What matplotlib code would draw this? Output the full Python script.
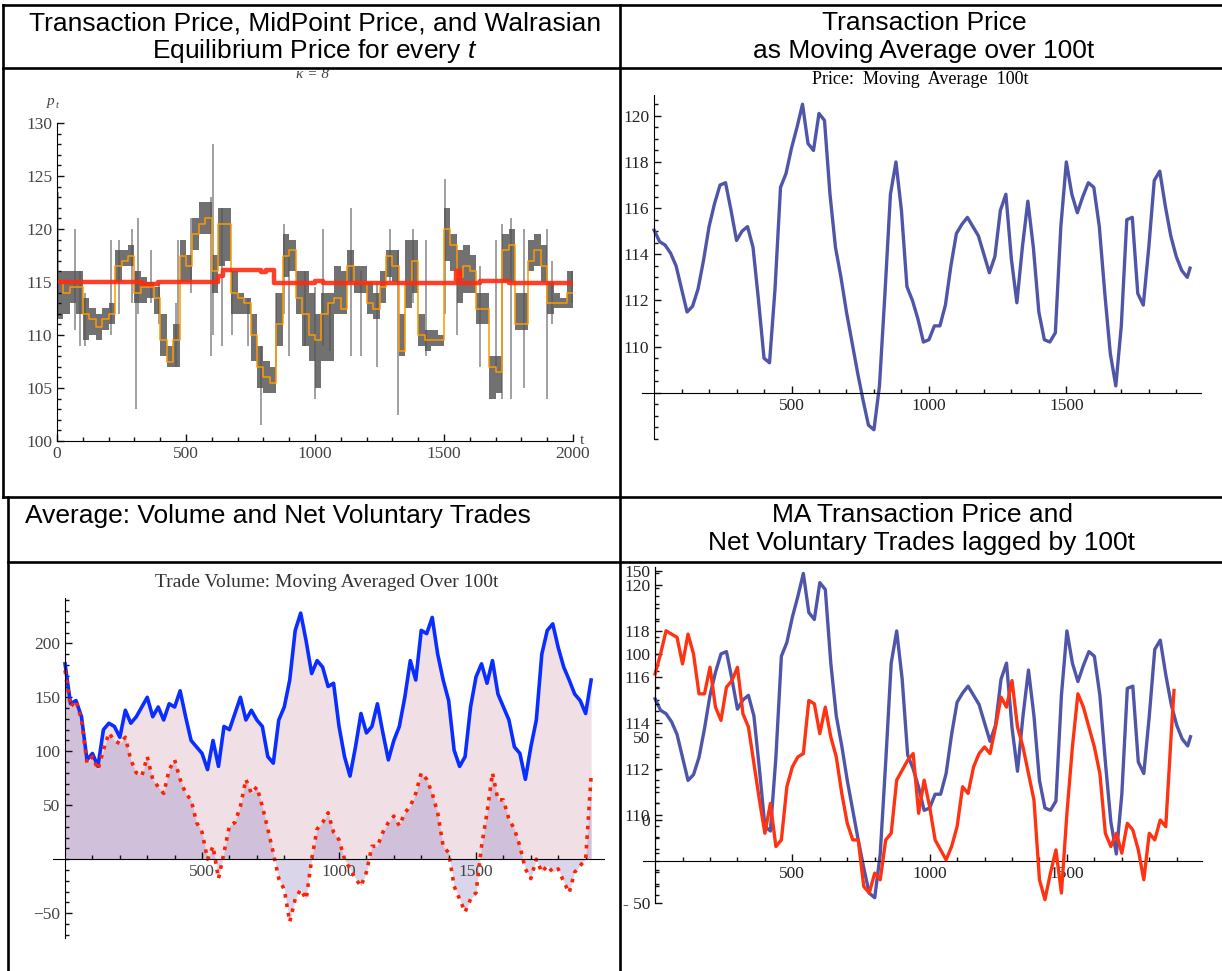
import numpy as np
import matplotlib.pyplot as plt

plt.rcParams['mathtext.fontset'] = 'custom'
plt.rcParams['mathtext.rm'] = 'Liberation Sans'
plt.rcParams['mathtext.it'] = 'Liberation Sans:italic'

W, H = 1222, 971
SERIF = 'Liberation Serif'
SANS = 'Liberation Sans'

# ---- top left: transaction price band, midpoint, walrasian price ----
band_t = list(range(0, 2000, 25))
band_lo = [111.5, 112, 113, 112, 109.5, 110, 109.5, 110.5, 111, 115, 116.5, 116.5,
           113, 113, 113.5, 112, 108, 107, 107, 115, 115, 118, 119.5, 119.5,
           114, 116.5, 117, 112, 112, 112, 107.5, 105, 104.5, 104.5, 109, 115.5,
           116, 112, 109, 107.5, 105, 107.5, 107.5, 112, 112, 115, 114, 114,
           112, 111.5, 113, 115.5, 115, 108, 112.5, 114, 109, 108.5, 109, 109,
           117, 116, 113, 114, 114, 111, 111, 104, 104.5, 115, 115, 110.5,
           110.5, 116, 116.5, 115, 112, 112.5, 112.5, 112.5]
band_hi = [116, 116, 116, 116, 113.5, 112.5, 112, 112.5, 113, 118, 118, 118.5,
           116, 115.5, 115, 114.5, 112, 109, 111, 119, 117.5, 121, 122.5, 122.5,
           117.5, 122, 122, 116, 114, 113.5, 112, 109, 107.5, 107, 114, 119.5,
           119, 116, 116, 114, 112, 114, 114, 116.5, 116, 118, 116.5, 116.5,
           115, 114, 116, 118, 118, 112, 119, 119, 112, 110.5, 110.5, 110,
           122, 119.5, 118, 118.5, 117.5, 114, 114, 108, 108, 119.5, 120, 114,
           114, 119, 119.5, 118.5, 115, 114, 113.5, 116]
band_mid = [115, 114, 114.5, 114.5, 112, 111.5, 110.8, 111.5, 112, 116.5, 117, 117.5,
            114, 114.5, 114.5, 113.5, 109.5, 107.5, 109.5, 117.5, 116.5, 119.5, 120.5, 121,
            116, 120.5, 120.5, 114, 113.5, 113, 110, 107, 106, 105.5, 111, 117.5,
            118, 113.5, 112, 110, 109.5, 112, 113, 113.5, 112.5, 116.5, 115, 115,
            113, 112.5, 114.5, 117.5, 116.5, 108.5, 115, 117, 110, 109.5, 109.5, 109.5,
            120, 118.5, 115.5, 116.5, 116, 112.5, 112.5, 107, 106.5, 118, 118.5, 111,
            111, 117, 118, 116.5, 113, 113, 113, 114]
spike_t = [5, 70, 90, 110, 210, 240, 290, 305, 315, 365, 395, 460, 470, 520, 595, 603,
           640, 680, 740, 790, 850, 880, 900, 960, 1000, 1030, 1060, 1140, 1180, 1240,
           1290, 1320, 1380, 1430, 1505, 1550, 1640, 1700, 1725, 1760, 1810, 1900, 1920, 1995]
spike_lo = [112, 110.5, 109, 109, 110, 112, 113, 103, 112, 113, 111, 107, 111, 114, 108, 110,
            109, 110, 109, 101.5, 107, 112, 108, 109, 104, 109, 108.5, 108, 108, 107,
            115, 102.5, 113, 108, 112, 110, 107, 107, 104, 104, 105, 104, 111, 113]
spike_hi = [123.5, 120, 116, 114, 119, 119, 120, 116, 121, 118, 115, 113, 119, 121, 123, 128,
            122, 116, 113.5, 109, 114, 120.5, 118, 116, 114.5, 120, 113, 122, 116, 115,
            120, 118, 120, 119, 124.7, 117, 116.5, 119, 120.5, 121, 120, 120, 117, 116]
walras_t = [0, 330, 390, 625, 645, 790, 810, 840, 1000, 1030, 1545, 1562, 1640, 1750, 2000]
walras_p = [115, 114.85, 115, 115.6, 116.1, 115.9, 116.1, 114.9, 115.05, 114.95, 116,
            114.95, 115.1, 114.9, 114.9]

# ---- moving average of the transaction price (top right, bottom right) ----
ma_t = list(range(0, 1960, 20)) + [1950]
ma_price = [115.05, 114.55, 114.4, 114.05, 113.5, 112.5, 111.5, 111.75, 112.5, 113.75,
            115.2, 116.2, 117.0, 117.1, 115.9, 114.6, 115.0, 115.2, 114.3, 112.0,
            109.5, 109.3, 112.5, 116.9, 117.5, 118.6, 119.5, 120.5, 118.8, 118.5,
            120.1, 119.8, 116.6, 114.3, 113.0, 111.5, 110.2, 108.9, 107.7, 106.6,
            106.4, 108.3, 112.3, 116.6, 118.0, 115.9, 112.6, 112.0, 111.2, 110.2,
            110.3, 110.9, 110.9, 111.8, 113.5, 114.9, 115.3, 115.6, 115.2, 114.8,
            114.0, 113.2, 113.9, 115.9, 116.6, 113.8, 111.9, 114.3, 116.3, 114.3,
            111.5, 110.3, 110.2, 110.6, 115.2, 118.0, 116.6, 115.8, 116.5, 117.1,
            116.9, 115.2, 112.3, 109.7, 108.3, 110.9, 115.5, 115.6, 112.3, 111.8,
            114.3, 117.2, 117.6, 116.1, 114.8, 113.9, 113.3, 113.0, 113.4]

# ---- net voluntary trades lagged by 100t (bottom right) ----
lag_t = list(range(0, 1900, 20)) + [1890]
lag_net = [88, 100, 114, 112, 110, 94, 112, 100, 76, 76, 92, 68, 60, 80, 84, 92, 64, 56,
           34, 12, -8, 10, -16, -12, 20, 32, 38, 40, 72, 70, 52, 68, 50, 38, 16, -2,
           -12, -12, -40, -44, -32, -36, -12, -8, 24, 30, 36, 40, 4, 24, 8, -12, -18,
           -24, -16, -4, 20, 16, 32, 40, 44, 40, 56, 74, 68, 84, 56, 44, 28, 12, -36,
           -48, -32, -18, -44, 4, 44, 76, 68, 56, 44, 28, -8, -16, -8, -20, -2, -6,
           -18, -36, -8, -12, 0, -4, 52, 78]

# ---- trade volume and net voluntary trades, MA 100t (bottom left) ----
vol_t = list(range(0, 1940, 20))
vol_ma = [181, 144, 147, 132, 92, 98, 86, 120, 126, 123, 113, 138, 126, 132, 141, 150,
          132, 141, 129, 144, 141, 156, 132, 110, 104, 98, 83, 110, 86, 123, 120, 135,
          150, 129, 138, 129, 123, 95, 89, 129, 141, 166, 212, 228, 202, 172, 184, 178,
          160, 163, 123, 95, 77, 104, 135, 117, 123, 144, 117, 92, 110, 123, 150, 184,
          166, 212, 209, 224, 190, 166, 147, 101, 86, 95, 141, 169, 181, 163, 184, 153,
          141, 129, 104, 98, 74, 104, 129, 190, 212, 218, 196, 178, 166, 153, 147, 135, 166]
net_ma = [175, 141, 147, 129, 89, 95, 83, 101, 117, 110, 107, 113, 92, 80, 77, 95, 74,
          67, 61, 83, 92, 74, 61, 55, 34, 25, 0, 12, -18, 6, 31, 34, 49, 74, 61, 67, 49,
          28, 6, -18, -28, -58, -37, -28, -37, 0, 28, 34, 43, 25, 18, 0, -9, -18, -25,
          -12, 12, 12, 25, 34, 40, 31, 43, 49, 61, 80, 74, 61, 43, 12, 6, -25, -37, -49,
          -37, -31, 12, 43, 80, 55, 55, 37, 28, 12, -9, -18, 0, -12, -6, -12, -9, -21,
          -31, -12, -6, 0, 77]


fig = plt.figure(figsize=(W / 100, H / 100), dpi=100)


def px_axes(x0, y0, x1, y1):
    ax = fig.add_axes([x0 / W, 1 - y1 / H, (x1 - x0) / W, (y1 - y0) / H])
    ax.patch.set_alpha(0)
    return ax


def mma_style(ax, x0, y0, color='#222222'):
    # axes crossing inside the frame, ticks pointing inward
    ax.spines['top'].set_visible(False)
    ax.spines['right'].set_visible(False)
    ax.spines['left'].set_position(('data', x0))
    ax.spines['bottom'].set_position(('data', y0))
    ax.tick_params(which='both', direction='in', width=1, colors='#111111',
                   labelsize=12.5, labelcolor=color)
    ax.tick_params(which='major', length=5)
    ax.tick_params(which='minor', length=3)
    for lab in ax.get_xticklabels() + ax.get_yticklabels():
        lab.set_fontfamily(SERIF)


# top left
ax1 = px_axes(57, 123, 573, 441)
ax1.set_xlim(0, 2000)
ax1.set_ylim(100, 130)
bt = np.append(band_t, 2000)
ax1.fill_between(bt, np.append(band_lo, band_lo[-1]), np.append(band_hi, band_hi[-1]),
                 step='post', color='#3a3a3a', alpha=0.72, lw=0)
ax1.vlines(spike_t, spike_lo, spike_hi, color='#555555', alpha=0.6, lw=1.3)
ax1.step(bt, np.append(band_mid, band_mid[-1]), where='post', color='#FF9900', lw=1.1)
ax1.step(walras_t, walras_p, where='post', color='#FF2A10', lw=3.2, alpha=0.9)
ax1.set_xticks([0, 500, 1000, 1500, 2000])
ax1.set_xticks(range(0, 2001, 100), minor=True)
ax1.set_yticks(range(100, 131, 5))
ax1.set_yticks(range(100, 131, 1), minor=True)
mma_style(ax1, 0, 100, color='#444444')

# top right
ax2 = px_axes(642, 95, 1201, 439)
ax2.set_xlim(-44, 1990)
ax2.set_ylim(106, 120.9)
ax2.plot(ma_t, ma_price, color='#4F55A8', lw=2.4)
ax2.set_xticks([500, 1000, 1500])
ax2.set_xticks(range(100, 1901, 100), minor=True)
ax2.set_yticks([108, 110, 112, 114, 116, 118, 120], ['', '110', '112', '114', '116', '118', '120'])
ax2.set_yticks(np.arange(106, 121, 0.5), minor=True)
mma_style(ax2, 0, 108)
fig.text(920 / W, 1 - 80 / H, 'Price:  Moving  Average  100t', fontfamily=SERIF,
         fontsize=13, ha='center', va='center')

# bottom left
ax3 = px_axes(53, 598, 604, 938)
ax3.set_xlim(-44, 1967)
ax3.set_ylim(-73, 242)
ax3.fill_between(vol_t, 0, vol_ma, color='#f0e0e6', lw=0)
ax3.fill_between(vol_t, 0, net_ma, color='#8877bb', alpha=0.3, lw=0)
ax3.plot(vol_t, vol_ma, color='#0A2EFF', lw=2.6)
ax3.plot(vol_t, net_ma, color='#FF2200', lw=2.6, ls=':')
ax3.set_xticks([500, 1000, 1500])
ax3.set_xticks(range(100, 1901, 100), minor=True)
ax3.set_yticks([-50, 50, 100, 150, 200], ['\u221250', '50', '100', '150', '200'])
ax3.set_yticks(range(-70, 241, 10), minor=True)
mma_style(ax3, 0, 0, color='#444444')
fig.text(327 / W, 1 - 582 / H, 'Trade Volume: Moving Averaged Over 100t', fontfamily=SERIF,
         fontsize=14, color='#333333', ha='center', va='center')

# bottom right: price MA with net trades on an overlaid axis
ax4 = px_axes(643, 567, 1202, 903)
ax4.set_xlim(-44, 1992)
ax4.set_ylim(106.17, 120.78)
ax4.plot(ma_t, ma_price, color='#4F55A8', lw=2.4)
ax4.set_xticks([500, 1000, 1500])
ax4.set_xticks(range(100, 1901, 100), minor=True)
ax4.set_yticks([110, 112, 114, 116, 118, 120])
ax4.set_yticks(np.arange(106.5, 121, 0.5), minor=True)
mma_style(ax4, 0, 108)

ax5 = px_axes(643, 567, 1202, 903)
ax5.set_xlim(-44, 1992)
ax5.set_ylim(-50, 152.4)
ax5.plot(lag_t, lag_net, color='#FF3311', lw=2.4)
ax5.spines['bottom'].set_visible(False)
ax5.set_xticks([])
ax5.set_yticks([-50, 0, 50, 100, 150], ['- 50', '0', '50', '100', '150'])
ax5.set_yticks(range(-50, 151, 10), minor=True)
mma_style(ax5, 0, 0)

# table frame and header texts
axt = fig.add_axes([0, 0, 1, 1], zorder=10)
axt.set_xlim(0, W)
axt.set_ylim(H, 0)
axt.axis('off')
axt.patch.set_alpha(0)
lw = 1.9
for y, x0 in [(5, 3), (68, 3), (497, 3), (562, 8)]:
    axt.plot([x0, W], [y, y], color='black', lw=lw)
axt.plot([3, 3], [5, 497], color='black', lw=lw)
axt.plot([8, 8], [497, H], color='black', lw=lw)
axt.plot([620, 620], [5, H], color='black', lw=lw)

hdr = dict(fontfamily=SANS, fontsize=19, ha='center', va='center', color='black')
axt.text(315, 23, 'Transaction Price, MidPoint Price, and Walrasian', **hdr)
axt.text(315, 51, 'Equilibrium Price for every $t$', **hdr)
axt.text(924, 23, 'Transaction Price', **hdr)
axt.text(924, 51, 'as Moving Average over 100t', **hdr)
axt.text(922, 515, 'MA Transaction Price and', **hdr)
axt.text(922, 543, 'Net Voluntary Trades lagged by 100t', **hdr)
axt.text(25, 516, 'Average: Volume and Net Voluntary Trades', fontfamily=SANS,
         fontsize=19, ha='left', va='center')

fig.text(313 / W, 1 - 75 / H, '\u03ba = 8', fontfamily=SERIF, fontsize=11,
         ha='center', va='center', color='#444444', style='italic')
fig.text(51 / W, 1 - 102 / H, 'p', fontfamily=SERIF, fontsize=11, style='italic',
         ha='center', va='center', color='#444444')
fig.text(57 / W, 1 - 106 / H, 't', fontfamily=SERIF, fontsize=7.5, style='italic',
         ha='center', va='center', color='#444444')
fig.text(580 / W, 1 - 440 / H, 't', fontfamily=SERIF, fontsize=11,
         ha='left', va='center', color='#444444')

fig.savefig('out.png', dpi=100)
